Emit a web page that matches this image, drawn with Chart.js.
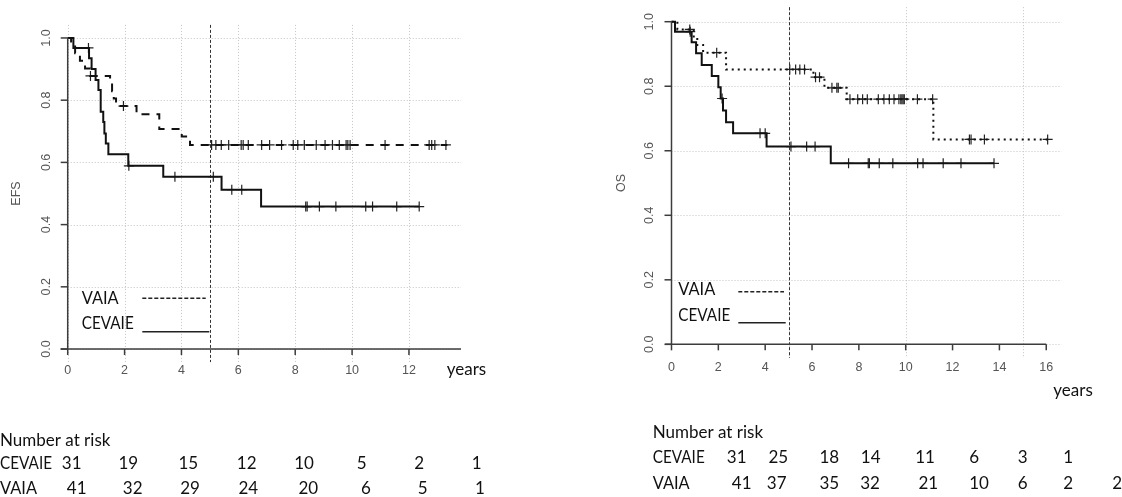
<!DOCTYPE html>
<html>
<head>
<meta charset="utf-8">
<script src="https://cdn.jsdelivr.net/npm/chart.js@4.4.1/dist/chart.umd.min.js"></script>
<style>
  body { margin: 0; background: #fff; }
  canvas { position: absolute; top: 0; }
</style>
</head>
<body>
<canvas id="efsChart" width="560" height="497" style="left:0"></canvas>
<canvas id="osChart" width="562" height="497" style="left:560px"></canvas>
<script>
// EFS - step times (years) and survival after each step
const efsCevaieTime = [0, 0.2, 0.75, 0.84, 0.98, 1.08, 1.16, 1.25, 1.29, 1.34, 1.43, 2.13, 3.36, 5.41, 6.8, 12.36];
const efsCevaieSurv = [1, 0.968, 0.935, 0.9, 0.865, 0.833, 0.763, 0.73, 0.693, 0.661, 0.626, 0.589, 0.554, 0.512, 0.458, 0.458];
const efsCevaieCens = [0.73, 2.15, 3.77, 5.12, 5.77, 6.12, 8.37, 8.42, 8.85, 9.43, 10.48, 10.72, 11.57, 12.36];

const efsVaiaTime = [0, 0.12, 0.26, 0.43, 0.61, 0.79, 1.49, 1.56, 1.62, 1.7, 2.42, 3.22, 4.01, 4.3, 13.35];
const efsVaiaSurv = [1, 0.976, 0.951, 0.927, 0.902, 0.878, 0.854, 0.829, 0.805, 0.781, 0.755, 0.707, 0.683, 0.656, 0.656];
const efsVaiaCens = [0.8, 1.96, 5.06, 5.21, 5.4, 5.66, 6.1, 6.17, 6.35, 6.82, 7.1, 7.52, 7.93, 8.09, 8.32, 8.74, 9.05, 9.31, 9.55, 9.79, 9.85, 9.93, 11.16, 12.71, 12.8, 12.91, 13.3];

// OS
const osCevaieTime = [0, 0.15, 0.86, 1.05, 1.29, 1.72, 2.0, 2.1, 2.2, 2.33, 2.63, 4.06, 6.8, 13.77];
const osCevaieSurv = [1, 0.969, 0.936, 0.902, 0.866, 0.832, 0.797, 0.762, 0.725, 0.688, 0.654, 0.613, 0.561, 0.561];
const osCevaieCens = [0.8, 2.16, 3.78, 4.0, 5.1, 5.77, 6.13, 7.56, 8.4, 8.45, 8.87, 9.45, 10.51, 10.74, 11.6, 12.36, 13.77];

const osVaiaTime = [0, 0.25, 0.95, 1.1, 1.35, 2.33, 6.06, 6.53, 7.48, 11.18, 16.06];
const osVaiaSurv = [1, 0.976, 0.951, 0.928, 0.904, 0.852, 0.828, 0.795, 0.76, 0.635, 0.635];
const osVaiaCens = [0.78, 1.93, 5.05, 5.3, 5.48, 5.68, 6.15, 6.32, 6.85, 7.06, 7.12, 7.62, 7.95, 8.16, 8.36, 8.83, 9.07, 9.3, 9.5, 9.71, 9.79, 9.84, 9.89, 9.94, 10.5, 11.15, 12.72, 12.79, 13.36, 16.06];

// axes
const yTicks = [0, 0.2, 0.4, 0.6, 0.8, 1.0];
const yTickLabels = ["0.0", "0.2", "0.4", "0.6", "0.8", "1.0"];
const efsXTicks = [0, 2, 4, 6, 8, 10, 12];
const osXTicks = [0, 2, 4, 6, 8, 10, 12, 14, 16];
const efsGridX = [0, 2, 4, 6, 8, 10, 12];
const osGridX = [5, 10, 15];

// number at risk
const efsRiskCevaie = [31, 19, 15, 12, 10, 5, 2, 1];
const efsRiskVaia = [41, 32, 29, 24, 20, 6, 5, 1];
const osRiskCevaie = [31, 25, 18, 14, 11, 6, 3, 1];
const osRiskVaia = [41, 37, 35, 32, 21, 10, 6, 2, 2];

function km(times, surv) {
  return times.map((t, i) => ({ x: t, y: surv[i] }));
}
function survAt(times, surv, t) {
  let s = surv[0];
  for (let i = 0; i < times.length; i++) if (times[i] <= t) s = surv[i];
  return s;
}
function censored(times, surv, cens) {
  return cens.map(t => ({ x: t, y: survAt(times, surv, t) }));
}

const ink = "#111";
const tickFont = '12.5px "Liberation Sans", Arial, sans-serif';
const textFont = '17px Lato, "Open Sans", sans-serif';
// rough widths of the Calibri-like labels in the picture
const textWidth = { "CEVAIE": 52, "VAIA": 37, "years": 41, "Number at risk": 114 };

function hline(ctx, x1, x2, y) { ctx.beginPath(); ctx.moveTo(x1, y); ctx.lineTo(x2, y); ctx.stroke(); }
function vline(ctx, x, y1, y2) { ctx.beginPath(); ctx.moveTo(x, y1); ctx.lineTo(x, y2); ctx.stroke(); }
function label(ctx, s, x, y) {
  const w = textWidth[s];
  if (w) ctx.fillText(s, x, y, w); else ctx.fillText(s, x, y);
}

const kmFrame = {
  id: "kmFrame",
  beforeDatasetsDraw(chart, args, o) {
    const { ctx, chartArea: a, scales: { x, y } } = chart;
    const x0 = x.getPixelForValue(0);
    ctx.save();
    ctx.strokeStyle = "#c4c4c4";
    ctx.lineWidth = 1;
    ctx.setLineDash([1, 2]);
    o.gridX.forEach(v => vline(ctx, Math.round(x.getPixelForValue(v)) + 0.5, a.top, a.bottom));
    yTicks.forEach(v => hline(ctx, x0, a.right, Math.round(y.getPixelForValue(v)) + 0.5));
    // 5-year reference line
    ctx.strokeStyle = "#333";
    ctx.setLineDash([3, 2]);
    vline(ctx, Math.round(x.getPixelForValue(5)) + 0.5, a.top, a.bottom);
    ctx.restore();
  },
  afterDraw(chart, args, o) {
    const { ctx, chartArea: a, scales: { x, y } } = chart;
    const x0 = x.getPixelForValue(0), y0 = y.getPixelForValue(0), y1 = y.getPixelForValue(1);
    const off = o.offsetX;
    ctx.save();
    ctx.strokeStyle = "#3c3c3c";
    ctx.lineWidth = 1.5;
    ctx.setLineDash([]);
    vline(ctx, x0, y0, y1);
    hline(ctx, a.left, x.getPixelForValue(o.xAxisEnd), y0);
    yTicks.forEach(v => hline(ctx, x0 - 7, x0, y.getPixelForValue(v)));
    o.xTicks.forEach(v => vline(ctx, x.getPixelForValue(v), y0, y0 + 6));

    // tick labels
    ctx.fillStyle = "#555";
    ctx.font = tickFont;
    ctx.textAlign = "center";
    ctx.textBaseline = "alphabetic";
    o.xTicks.forEach(v => ctx.fillText(String(v), x.getPixelForValue(v), y0 + o.xLabelGap + 4.5));
    yTicks.forEach((v, i) => {
      ctx.save();
      ctx.translate(x0 - o.yLabelGap, y.getPixelForValue(v));
      ctx.rotate(-Math.PI / 2);
      ctx.textBaseline = "middle";
      ctx.fillText(yTickLabels[i], 0, 0);
      ctx.restore();
    });
    ctx.save();
    ctx.translate(x0 - o.yTitleGap, y.getPixelForValue(0.5));
    ctx.rotate(-Math.PI / 2);
    ctx.textBaseline = "middle";
    ctx.fillText(o.yTitle, 0, 0);
    ctx.restore();

    // text in the figure
    ctx.fillStyle = ink;
    ctx.font = textFont;
    ctx.textAlign = "left";
    label(ctx, "years", o.years[0] - off, o.years[1] + 6);
    o.legend.forEach(it => {
      label(ctx, it.text, it.tx - off, it.ty + 6);
      ctx.strokeStyle = "#222";
      ctx.lineWidth = 1.5;
      ctx.setLineDash(it.dash);
      hline(ctx, it.x1 - off, it.x2 - off, it.ly);
    });
    ctx.setLineDash([]);

    // number at risk table
    const t = o.table;
    label(ctx, "Number at risk", t.left - off, t.rowY[0] + 6);
    t.rows.forEach((r, i) => {
      ctx.textAlign = "left";
      label(ctx, r.name, t.left - off, t.rowY[i + 1] + 6);
      ctx.textAlign = "center";
      r.values.forEach((v, j) => ctx.fillText(String(v), r.cols[j] - off, t.rowY[i + 1] + 6));
    });
    ctx.restore();
  }
};

function curve(label, times, surv, dash) {
  return {
    label, data: km(times, surv), stepped: "before",
    borderColor: ink, borderWidth: 2, borderDash: dash, borderCapStyle: "butt",
    pointRadius: 0, fill: false
  };
}
function marks(times, surv, cens) {
  return {
    data: censored(times, surv, cens), showLine: false,
    pointStyle: "cross", pointRadius: 5, pointBorderWidth: 1.2,
    pointBorderColor: "#222", pointBackgroundColor: "#222"
  };
}

function makeChart(id, datasets, xr, yr, padding, frame) {
  return new Chart(document.getElementById(id), {
    type: "line",
    data: { datasets },
    plugins: [kmFrame],
    options: {
      responsive: false, animation: false, devicePixelRatio: 1, events: [],
      layout: { padding },
      scales: {
        x: { type: "linear", min: xr[0], max: xr[1], display: false },
        y: { type: "linear", min: yr[0], max: yr[1], display: false }
      },
      plugins: { legend: { display: false }, tooltip: { enabled: false }, kmFrame: frame }
    }
  });
}

makeChart("efsChart", [
  curve("VAIA", efsVaiaTime, efsVaiaSurv, [8, 7]),
  curve("CEVAIE", efsCevaieTime, efsCevaieSurv, []),
  marks(efsVaiaTime, efsVaiaSurv, efsVaiaCens),
  marks(efsCevaieTime, efsCevaieSurv, efsCevaieCens)
], [-0.25, 13.83], [-0.042, 1.042], { left: 60.6, right: 99, top: 24.9, bottom: 134.9 }, {
  offsetX: 0, xTicks: efsXTicks, gridX: efsGridX, xAxisEnd: 13.83,
  xLabelGap: 20, yLabelGap: 20.7, yTitleGap: 50.7, yTitle: "EFS",
  years: [446.7, 369],
  legend: [
    { text: "VAIA", tx: 81.7, ty: 297.7, x1: 142.3, x2: 205.7, ly: 298.3, dash: [4, 2] },
    { text: "CEVAIE", tx: 81.7, ty: 322.7, x1: 142.3, x2: 209.3, ly: 331.7, dash: [] }
  ],
  table: {
    left: 0, rowY: [440, 462.7, 488.3],
    rows: [
      { name: "CEVAIE", values: efsRiskCevaie, cols: [71.7, 128.3, 188.3, 246.7, 304, 361.7, 419.3, 476.7] },
      { name: "VAIA", values: efsRiskVaia, cols: [76.7, 132.7, 190, 248.3, 308.3, 366, 422.7, 480] }
    ]
  }
});

makeChart("osChart", [
  curve("VAIA", osVaiaTime, osVaiaSurv, [2, 4]),
  curve("CEVAIE", osCevaieTime, osCevaieSurv, []),
  marks(osVaiaTime, osVaiaSurv, osVaiaCens),
  marks(osCevaieTime, osCevaieSurv, osCevaieCens)
], [-0.28, 16.66], [-0.042, 1.045], { left: 104.94, right: 60.3, top: 7.18, bottom: 139.1 }, {
  offsetX: 560, xTicks: osXTicks, gridX: osGridX, xAxisEnd: 16,
  xLabelGap: 22.4, yLabelGap: 21.5, yTitleGap: 49.8, yTitle: "OS",
  years: [1053.3, 390],
  legend: [
    { text: "VAIA", tx: 678.3, ty: 289.3, x1: 738.3, x2: 784, ly: 291.7, dash: [4, 2] },
    { text: "CEVAIE", tx: 678.3, ty: 315, x1: 738.3, x2: 785.7, ly: 322.7, dash: [] }
  ],
  table: {
    left: 652.7, rowY: [431.7, 456.7, 483.3],
    rows: [
      { name: "CEVAIE", values: osRiskCevaie, cols: [736.7, 778.3, 829.3, 870.7, 925, 974.3, 1022.7, 1068.3] },
      { name: "VAIA", values: osRiskVaia, cols: [741.7, 776.7, 829.3, 870, 928.3, 979, 1022.7, 1068.3, 1117.3] }
    ]
  }
});
</script>
</body>
</html>
